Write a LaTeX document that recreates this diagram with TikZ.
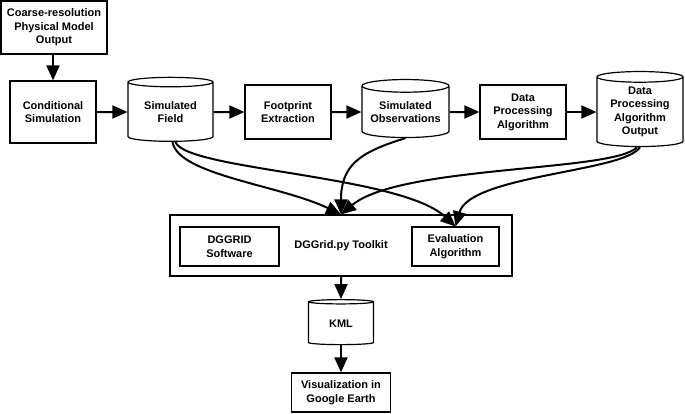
\documentclass[tikz,border=0pt]{standalone}
\usepackage{fontspec}
\setmainfont{Liberation Sans}
\usepackage{tikz}
\usetikzlibrary{shapes.geometric,arrows.meta}

\begin{document}
\begin{tikzpicture}[x=1pt,y=-1pt,
    every node/.style={font=\bfseries\fontsize{11}{13.5}\selectfont,align=center,inner sep=0pt},
    procbox/.style={draw,line width=1.2pt,rectangle},
    store/.style={draw,line width=1.2pt,cylinder,shape border rotate=90,aspect=0.18},
    flow/.style={line width=2pt,-{Triangle[length=15pt,width=13pt]}}]
      \useasboundingbox (0,0) rectangle (685,413);
      \node[procbox,minimum width=106pt,minimum height=53pt] (model) at (54,27.5) {Coarse-resolution\\Physical Model\\Output};
      \node[procbox,minimum width=86pt,minimum height=62pt] (condsim) at (53,112) {Conditional\\Simulation};
      \node[store,minimum width=85pt,minimum height=64pt] (field) at (170.5,112) {Simulated\\Field};
      \node[procbox,minimum width=86pt,minimum height=54pt] (footprint) at (288,112) {Footprint\\Extraction};
      \node[store,minimum width=87pt,minimum height=58pt] (obs) at (405.5,112) {Simulated\\Observations};
      \node[procbox,minimum width=86pt,minimum height=54pt] (dpa) at (523,112) {Data\\Processing\\Algorithm};
      \node[store,minimum width=86pt,minimum height=75pt] (dpaout) at (640,112) {Data\\Processing\\Algorithm\\Output};
      \node[procbox,minimum width=342pt,minimum height=61pt] (toolkit) at (341,245.5) {DGGrid.py Toolkit};
      \node[procbox,minimum width=99pt,minimum height=39pt] (dggrid) at (229.5,246.5) {DGGRID\\Software};
      \node[procbox,minimum width=87pt,minimum height=39pt] (evalalg) at (455.5,246.5) {Evaluation\\Algorithm};
      \node[store,minimum width=65pt,minimum height=45pt] (kml) at (341,323.5) {KML};
      \node[procbox,minimum width=99pt,minimum height=39pt] (viz) at (341,392.5) {Visualization in\\Google Earth};
      \draw[flow] (model.south -| condsim) -- (condsim);
      \foreach \a/\b in {condsim/field,field/footprint,footprint/obs,obs/dpa,dpa/dpaout,toolkit/kml,kml/viz}
        \draw[flow] (\a) -- (\b);
      \draw[flow] ([xshift=2pt]field.south) .. controls (178,175) and (280,185) .. (toolkit.north);
      \draw[flow] ([xshift=5pt]field.south) .. controls (185,170) and (400,175) .. (evalalg.north);
      \draw[flow] (obs.south) .. controls (360,152) and (341,165) .. (toolkit.north);
      \draw[flow] ([xshift=-3pt]dpaout.south) .. controls (615,172) and (400,165) .. (toolkit.north);
      \draw[flow] (dpaout.south) .. controls (625,172) and (470,175) .. (evalalg.north);
   \end{tikzpicture}
\end{document}
